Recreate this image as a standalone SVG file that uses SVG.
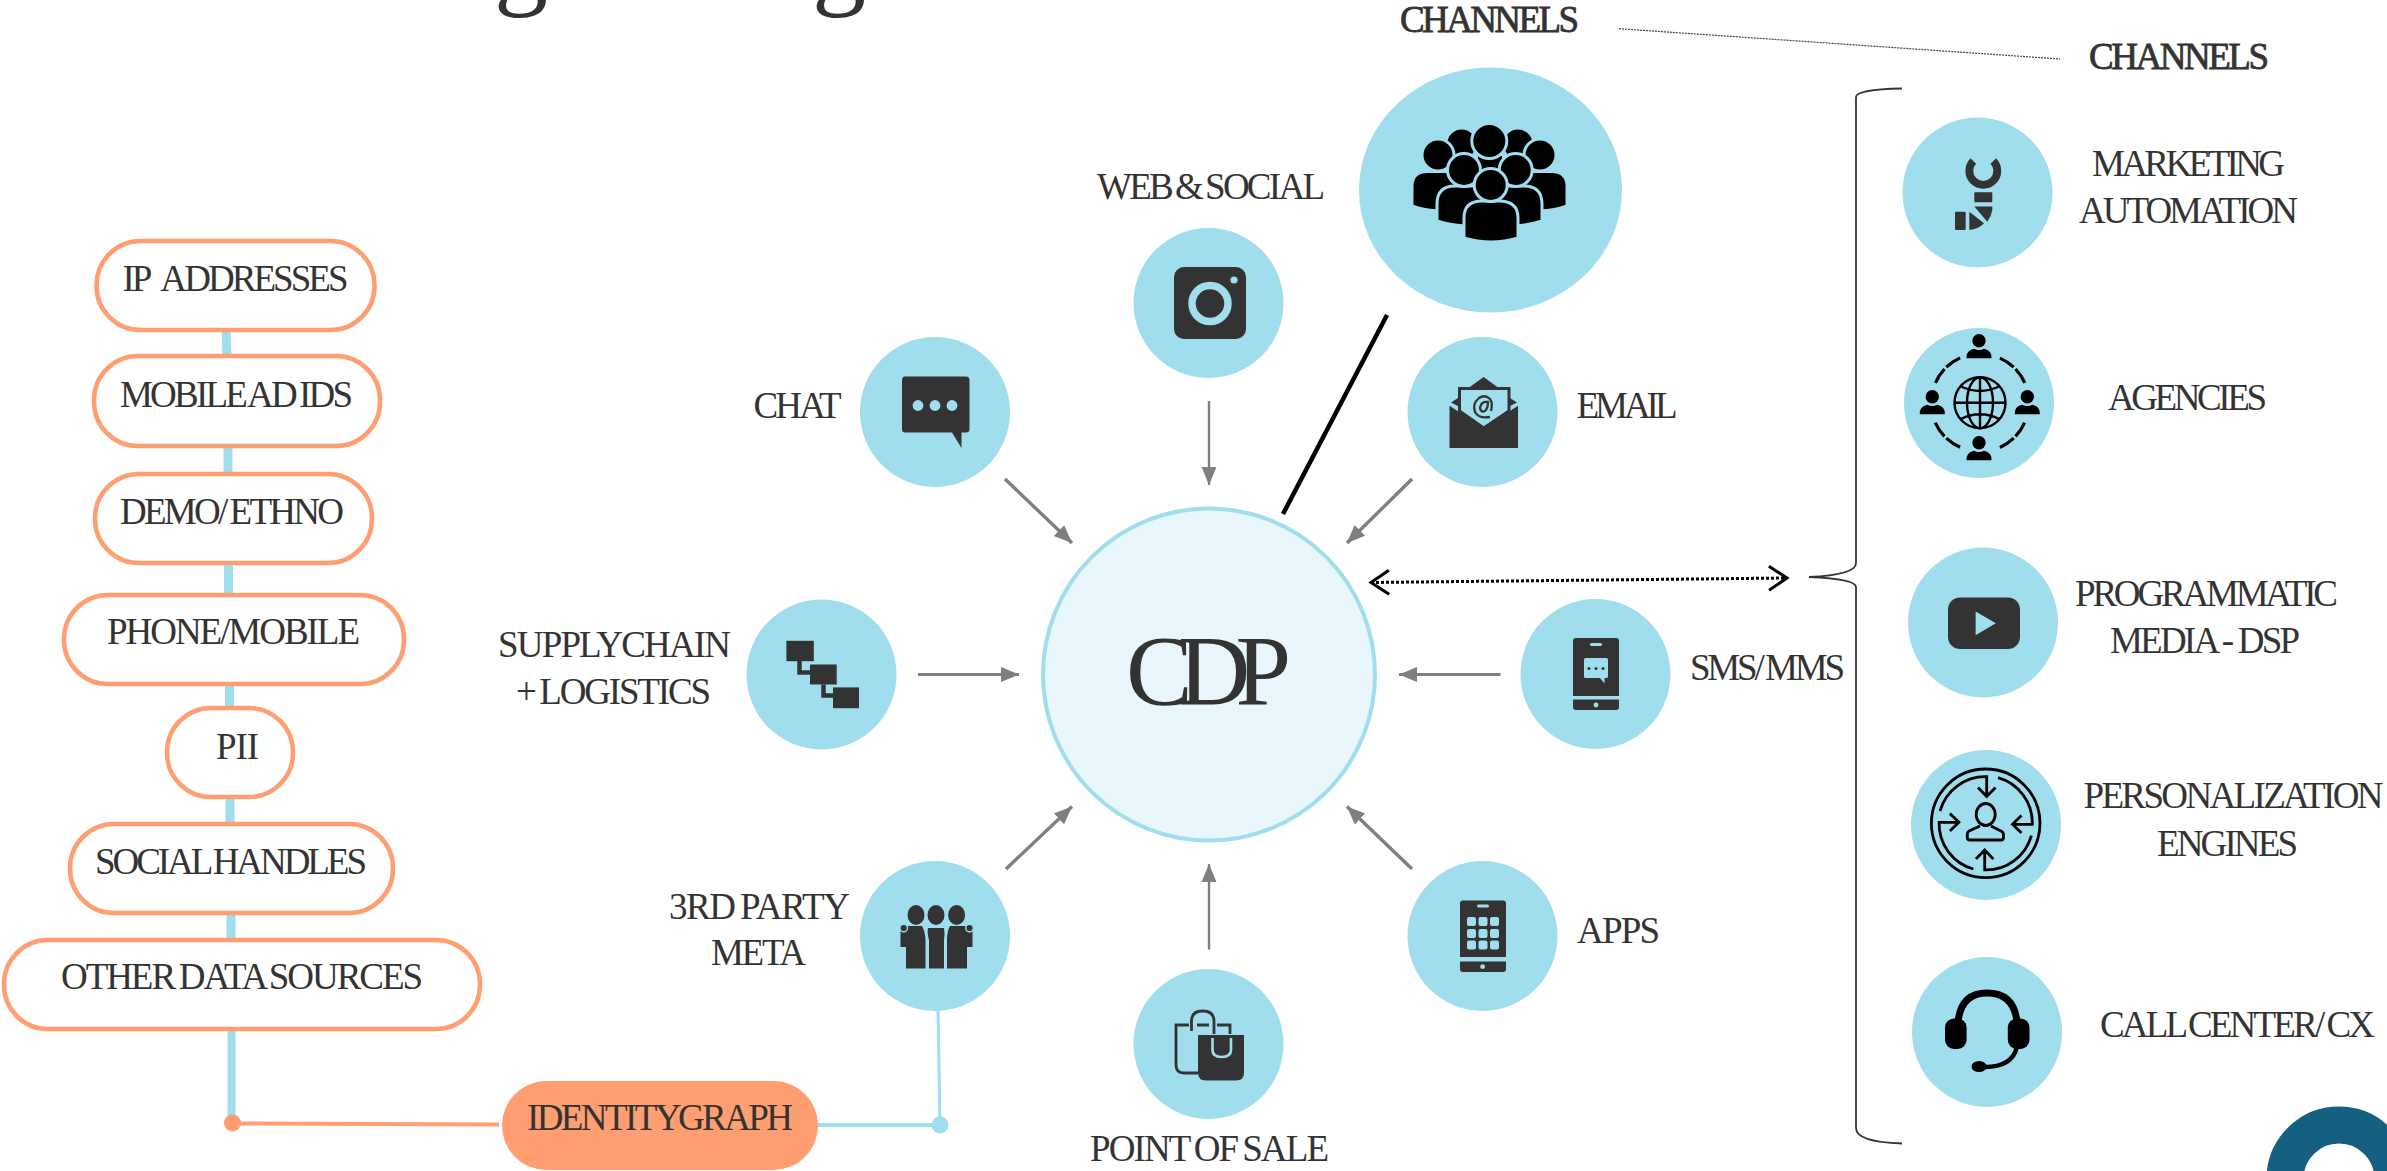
<svg xmlns="http://www.w3.org/2000/svg" xmlns:xlink="http://www.w3.org/1999/xlink" width="2387" height="1171" viewBox="0 0 2387 1171">
<style>
text{font-family:"Liberation Serif","Times New Roman",serif;font-size:37px;fill:#333;word-spacing:-2.5px}
.tight{word-spacing:-6px}
.b{fill:#A0DDED}.d{fill:#333}.k{fill:#000}
.pill{fill:#fff;stroke:#FF9E70;stroke-width:4.5}
.g{stroke:#7F7F7F;fill:none}
.ks{stroke:#000;fill:none;stroke-width:2.8}
</style>
<defs>
<marker id="ah" markerUnits="userSpaceOnUse" markerWidth="20" markerHeight="18" refX="18" refY="9" orient="auto"><path d="M0,1.5L18,9L0,16.5Z" fill="#7F7F7F"/></marker>
<marker id="op" markerUnits="userSpaceOnUse" markerWidth="24" markerHeight="28" refX="20" refY="14" orient="auto-start-reverse"><path d="M2,2L20,14L2,26" fill="none" stroke="#000" stroke-width="3"/></marker>
<g id="ag"><circle cx="0" cy="0" r="6.7"/><path d="M-12.5,17.5Q-13,9.5 -5,8Q0,10.5 5,8Q13,9.5 12.5,17.5Z"/></g>
<path id="agarc" d="M1999.9,358.1A49,49 0 0 1 2013.7,367.2M2015.5,369A49,49 0 0 1 2024.8,382.8" fill="none" stroke="#000" stroke-width="3.2"/>
<g id="pa" fill="none" stroke="#000" stroke-width="2.8"><path d="M1940,811A47,47 0 0 1 1986.7,776.7V796M1978,787.5L1986.7,796.5L1995.5,787.5"/></g>
</defs>

<g id="title-fragment"><text x="494" y="-5" style="font-size:108px">g</text><text x="812" y="-5" style="font-size:108px">g</text></g>

<g id="connectors">
<path d="M226,331L227,355M228,447V473M228.5,564V594M229.5,685V707M230,798V823M231,914V939" stroke="#A0DDED" stroke-width="9" fill="none"/>
<path d="M231.5,1030V1123" stroke="#A0DDED" stroke-width="8" fill="none"/>
<path d="M232,1123.5L499,1124.5" stroke="#FF9E70" stroke-width="4" fill="none"/>
<path d="M818,1125H940" stroke="#A0DDED" stroke-width="4" fill="none"/>
<path d="M938,1008L940,1125" stroke="#A0DDED" stroke-width="3" fill="none"/>
<path d="M1209,401V485" class="g" stroke-width="2.4" marker-end="url(#ah)"/>
<path d="M1005,479L1072,543" class="g" stroke-width="3.4" marker-end="url(#ah)"/>
<path d="M1412,479L1347,543" class="g" stroke-width="3.4" marker-end="url(#ah)"/>
<path d="M918,674.5H1019" class="g" stroke-width="3" marker-end="url(#ah)"/>
<path d="M1500.5,674.5H1399" class="g" stroke-width="3" marker-end="url(#ah)"/>
<path d="M1006,869L1072,806.5" class="g" stroke-width="3.4" marker-end="url(#ah)"/>
<path d="M1412,869L1347,806.5" class="g" stroke-width="3.4" marker-end="url(#ah)"/>
<path d="M1209,949.5V864" class="g" stroke-width="2.4" marker-end="url(#ah)"/>
<path d="M1387,315L1283,514" stroke="#000" stroke-width="4.5" fill="none"/>
<path d="M1371,582.5L1787,578" stroke="#000" stroke-width="3" stroke-dasharray="3 2" fill="none" marker-start="url(#op)" marker-end="url(#op)"/>
<path d="M1619,28.7L2060,59" stroke="#444" stroke-width="1.2" stroke-dasharray="2 1" fill="none"/>
<path d="M1902,88.5Q1856,89.5 1856,97V563Q1856,575 1809,577Q1856,579 1856,587V1128Q1856,1142 1902,1143.5" stroke="#333" stroke-width="1.8" fill="none"/>
</g>

<g id="ip"><rect class="pill" x="96.5" y="241" width="278" height="89" rx="44"/><text x="122.5" y="291" textLength="226" style="word-spacing:8px">IP ADDRESSES</text></g>
<g id="mobile-ad-ids"><rect class="pill" x="94" y="356" width="286" height="90" rx="44"/><text x="120" y="407" textLength="233">MOBILE AD IDS</text></g>
<g id="demo"><rect class="pill" x="95" y="474" width="277" height="89" rx="44"/><text x="120" y="523.5" textLength="224">DEMO/ ETHNO</text></g>
<g id="phone"><rect class="pill" x="64" y="595" width="340" height="89" rx="44"/><text x="107" y="644" textLength="253">PHONE/MOBILE</text></g>
<g id="pii"><rect class="pill" x="167" y="708" width="126" height="89" rx="44"/><text x="216" y="759" textLength="43">PII</text></g>
<g id="social"><rect class="pill" x="70" y="824" width="323" height="89" rx="44"/><text x="95" y="874" textLength="272">SOCIAL HANDLES</text></g>
<g id="other"><rect class="pill" x="4" y="940" width="476" height="89" rx="44"/><text x="61" y="989" textLength="362">OTHER DATA SOURCES</text></g>
<g id="identity"><rect x="502" y="1081" width="316" height="89" rx="44.5" fill="#FF9E70"/><text class="tight" x="527" y="1130" textLength="266">IDENTITY GRAPH</text></g>
<g id="dot-orange"><circle cx="232.5" cy="1123" r="8.5" fill="#FF9E70"/></g>
<g id="dot-blue"><circle cx="940" cy="1125" r="8.5" class="b"/></g>

<g id="cdp"><circle cx="1209" cy="674.5" r="166" fill="#E9F6FC" stroke="#A0DDED" stroke-width="4"/><text x="1126" y="704" textLength="165" style="font-size:100px">CDP</text></g>

<g id="web-social"><circle class="b" cx="1208.5" cy="303" r="75"/>
<rect class="d" x="1174" y="267" width="72" height="72" rx="10"/><circle cx="1210" cy="303.5" r="18" fill="none" stroke="#A0DDED" stroke-width="7.5"/><circle class="b" cx="1234" cy="280" r="3.6"/>
<text x="1097" y="199" textLength="228">WEB &amp; SOCIAL</text></g>

<g id="chat"><circle class="b" cx="935" cy="412" r="75"/>
<path class="d" d="M905,376.5H966Q969.5,376.5 969.5,380V429Q969.5,432.5 966,432.5H961.5V448L952,432.5H905Q902,432.5 902,429V380Q902,376.5 905,376.5Z"/>
<circle class="b" cx="918" cy="405.5" r="5.4"/><circle class="b" cx="935" cy="405.5" r="5.4"/><circle class="b" cx="952" cy="405.5" r="5.4"/>
<text x="753.5" y="418" textLength="88">CHAT</text></g>

<g id="email"><circle class="b" cx="1482.5" cy="412" r="75"/>
<path class="d" d="M1483.7,377L1500,389H1467Z"/><path class="d" d="M1458,398L1451,402.5L1458,406ZM1510,398L1517,402.5L1510,406Z"/>
<path d="M1459.5,388.5H1509V411L1483.7,428L1459.5,411Z" fill="#A0DDED" stroke="#333" stroke-width="3"/>
<path class="d" d="M1449.5,405.7L1483.7,428L1518,405.7V448H1449.5Z"/>
<path d="M1491,411Q1493,403 1490,399Q1485,394 1479,398Q1472,404 1475,412Q1479,419 1490,417M1488,402Q1481,401 1480,408Q1481,413 1485,411Q1488,408 1488,402Z" fill="none" stroke="#333" stroke-width="2.3"/>
<text x="1576.5" y="418" textLength="101">EMAIL</text></g>

<g id="channels-hub"><ellipse class="b" cx="1490.5" cy="190" rx="131.5" ry="122.5"/>
<g class="k" stroke="#A0DDED" stroke-width="3">
<path d="M1445,185V160Q1445,150 1455,150H1470V185Z" stroke="none"/><path d="M1535,185V160Q1535,150 1525,150H1510V185Z" stroke="none"/>
<circle cx="1461.7" cy="144" r="16"/><circle cx="1518" cy="144" r="16"/>
<rect x="1478" y="156" width="24" height="30" stroke="none"/>
<circle cx="1489.3" cy="141" r="17.5"/>
<path d="M1412,206V186Q1412,171.5 1428,171.5H1446Q1460,172 1463,190V212L1440,211Q1424,210.5 1412,206Z"/>
<path d="M1567,206V186Q1567,171.5 1551,171.5H1533Q1519,172 1516,190V212L1540,211Q1555,210.5 1567,206Z"/>
<circle cx="1438" cy="155" r="16"/><circle cx="1540" cy="155" r="16"/>
<path d="M1437,221V204Q1437,186 1455,186H1473Q1492,188 1492,206V226L1465,226Q1449,225 1437,221Z"/>
<path d="M1542,221V204Q1542,186 1524,186H1506Q1487,188 1487,206V226L1514,226Q1530,225 1542,221Z"/>
<circle cx="1464" cy="170" r="16.5"/><circle cx="1515.7" cy="170" r="16.5"/>
<path d="M1464,238V218Q1464,201 1482,201H1499Q1518,201 1518,218V238Q1491,246 1464,238Z"/>
<circle cx="1490.7" cy="185" r="16.5"/>
</g>
<text x="1400" y="32" textLength="179" stroke="#333" stroke-width=".8">CHANNELS</text></g>

<g id="supply-chain"><circle class="b" cx="821.5" cy="674.5" r="75"/>
<rect class="d" x="786.4" y="640.8" width="27.4" height="20.4"/><rect class="d" x="810" y="664.5" width="26.7" height="20"/><rect class="d" x="833" y="687.4" width="26" height="20.8"/>
<path d="M799.5,661V672.5H810M823.5,684.5V695.5H833" fill="none" stroke="#333" stroke-width="4.5"/>
<text class="tight" x="498" y="656.5" textLength="233">SUPPLY CHAIN</text><text x="516" y="704" textLength="195">+ LOGISTICS</text></g>

<g id="sms"><circle class="b" cx="1595.5" cy="674" r="75"/>
<rect class="d" x="1573" y="638" width="46" height="72" rx="3"/><rect class="b" x="1573" y="696" width="46" height="3.5"/><rect class="b" x="1590" y="643" width="12" height="3" rx="1.5"/><circle class="b" cx="1596" cy="705" r="2.4"/>
<path class="b" d="M1585.5,658H1606.5Q1608,658 1608,660V676.5Q1608,678 1606.5,678H1604.5V683.5L1600,678H1585.5Q1584,678 1584,676.5V660Q1584,658 1585.5,658Z"/>
<circle class="d" cx="1589" cy="668.5" r="1.5"/><circle class="d" cx="1596" cy="668.5" r="1.5"/><circle class="d" cx="1603" cy="668.5" r="1.5"/>
<text x="1690" y="680" textLength="155">SMS/ MMS</text></g>

<g id="third-party"><circle class="b" cx="935" cy="936" r="75"/>
<ellipse class="d" cx="916" cy="915" rx="8.5" ry="10"/><ellipse class="d" cx="936" cy="915" rx="8.5" ry="10"/><ellipse class="d" cx="956.6" cy="915" rx="8.5" ry="10"/>
<path class="d" d="M900.5,947V930L908,926H922Q925,931 925.5,940V968.5H906V947Z"/>
<path class="d" d="M928,928H944Q945,933 944,940V968.5H929V940Q927,933 928,928Z"/>
<path class="d" d="M972.5,947V930L965,926H950Q947,931 947,940V968.5H967V947Z"/>
<circle class="d" cx="903.7" cy="928" r="3.8" stroke="#A0DDED" stroke-width="1.4"/><circle class="d" cx="969.5" cy="928" r="3.8" stroke="#A0DDED" stroke-width="1.4"/>
<text x="669" y="919" textLength="181">3RD PARTY</text><text x="711" y="965" textLength="95">META</text></g>

<g id="apps"><circle class="b" cx="1482.5" cy="936" r="75"/>
<rect class="d" x="1460" y="900.4" width="46" height="71.6" rx="3"/><rect class="b" x="1460" y="957" width="46" height="4.5"/><rect class="b" x="1477" y="904.6" width="12" height="3" rx="1.5"/><circle class="b" cx="1482.6" cy="966.7" r="2.4"/>
<g class="b"><rect x="1467" y="917" width="9" height="9" rx="2"/><rect x="1478.5" y="917" width="9" height="9" rx="2"/><rect x="1490" y="917" width="9" height="9" rx="2"/><rect x="1467" y="929" width="9" height="9" rx="2"/><rect x="1478.5" y="929" width="9" height="9" rx="2"/><rect x="1490" y="929" width="9" height="9" rx="2"/><rect x="1467" y="940.6" width="9" height="9" rx="2"/><rect x="1478.5" y="940.6" width="9" height="9" rx="2"/><rect x="1490" y="940.6" width="9" height="9" rx="2"/></g>
<text x="1577" y="942.5" textLength="83">APPS</text></g>

<g id="pos"><circle class="b" cx="1208.5" cy="1044" r="75"/>
<path d="M1198,1073H1184Q1176,1073 1176,1065V1025H1189M1197,1025H1209M1217,1025H1230V1034M1191.5,1031V1021Q1191.5,1011 1202.5,1011Q1214,1011 1214,1021V1034" fill="none" stroke="#333" stroke-width="2.8"/>
<path class="d" d="M1198,1035H1244V1073Q1244,1080.5 1236,1080.5H1206Q1198,1080.5 1198,1073Z"/>
<path d="M1212.5,1038V1050Q1212.5,1057 1221.5,1057Q1231,1057 1231,1050V1038" fill="none" stroke="#A0DDED" stroke-width="2.6"/>
<text x="1090" y="1161" textLength="239">POINT OF SALE</text></g>

<g id="marketing-automation"><circle class="b" cx="1977.5" cy="192.5" r="75"/>
<path d="M1973.3,161A14,14 0 1 0 1993.3,161" fill="none" stroke="#333" stroke-width="7.8"/>
<rect class="d" x="1974.3" y="192.3" width="18" height="10" rx="1"/>
<path class="d" d="M1974.3,206.5H1992.3V210Q1991.5,216 1987.3,221.7Z"/>
<path class="d" d="M1969.3,211.7L1984,223.3Q1978,229.5 1969.3,230Z"/>
<rect class="d" x="1955" y="211.7" width="10.7" height="18.3" rx="1"/>
<text x="2092" y="176" textLength="193">MARKETING</text><text x="2079" y="222.7" textLength="219">AUTOMATION</text></g>

<g id="agencies"><circle class="b" cx="1979" cy="403" r="75"/>
<use xlink:href="#agarc" href="#agarc"/><use xlink:href="#agarc" href="#agarc" transform="rotate(90 1980 402.7)"/><use xlink:href="#agarc" href="#agarc" transform="rotate(180 1980 402.7)"/><use xlink:href="#agarc" href="#agarc" transform="rotate(270 1980 402.7)"/>
<g class="k"><use xlink:href="#ag" href="#ag" x="1979" y="340.7"/><use xlink:href="#ag" href="#ag" x="1932.3" y="396.7"/><use xlink:href="#ag" href="#ag" x="2027.3" y="396.7"/><use xlink:href="#ag" href="#ag" x="1979" y="442.7"/></g>
<g fill="none" stroke="#000" stroke-width="2.4"><circle cx="1980" cy="402.7" r="25.5"/><ellipse cx="1980" cy="402.7" rx="13" ry="25.5"/><path d="M1980,377.2V428.2M1954.5,402.7H2005.5M1960,386Q1980,396 2000,386M1960,419.5Q1980,409 2000,419.5"/></g>
<text x="2108" y="409.5" textLength="159">AGENCIES</text></g>

<g id="programmatic"><circle class="b" cx="1983" cy="622.5" r="75"/>
<rect class="d" x="1948" y="597.6" width="72" height="51.4" rx="12"/><path class="b" d="M1975.6,611.4V635.2L1995.8,623.3Z"/>
<text x="2075" y="606" textLength="263">PROGRAMMATIC</text><text x="2110" y="653" textLength="190" style="word-spacing:0">MEDIA - DSP</text></g>

<g id="personalization"><circle class="b" cx="1986" cy="825" r="75"/>
<circle cx="1985.7" cy="823.3" r="54.3" class="ks"/>
<use xlink:href="#pa" href="#pa"/><use xlink:href="#pa" href="#pa" transform="rotate(90 1985.7 823.3)"/><use xlink:href="#pa" href="#pa" transform="rotate(180 1985.7 823.3)"/><use xlink:href="#pa" href="#pa" transform="rotate(270 1985.7 823.3)"/>
<ellipse cx="1985.7" cy="814.5" rx="9.5" ry="11" class="ks"/>
<path d="M1980,826L1969,831Q1967.3,832 1967.3,835V837.5Q1967.3,840 1970,840H2001Q2003.5,840 2003.5,837.5V835Q2003.5,832 2001,831L1991,826" class="ks"/>
<text x="2083.5" y="808" textLength="300">PERSONALIZATION</text><text x="2157" y="855.5" textLength="141">ENGINES</text></g>

<g id="call-center"><circle class="b" cx="1987" cy="1032" r="75"/>
<path d="M1958,1022Q1961,993 1987,993Q2014,993 2017,1022" fill="none" stroke="#000" stroke-width="7"/>
<rect class="k" x="1945" y="1018.4" width="21.6" height="30.6" rx="9"/><rect class="k" x="2007.8" y="1018.4" width="21.7" height="30.6" rx="9"/>
<path d="M2017,1047Q2012,1067 1985,1067" fill="none" stroke="#000" stroke-width="4.5"/>
<ellipse class="k" cx="1979" cy="1066.5" rx="7.5" ry="5.5"/>
<text x="2100" y="1037" textLength="275">CALL CENTER/ CX</text></g>

<g id="channels-label"><text x="2089" y="69" textLength="180" stroke="#333" stroke-width=".8">CHANNELS</text></g>

<g id="corner-ring"><circle cx="2339" cy="1179" r="54" fill="none" stroke="#155F80" stroke-width="37"/></g>
</svg>
